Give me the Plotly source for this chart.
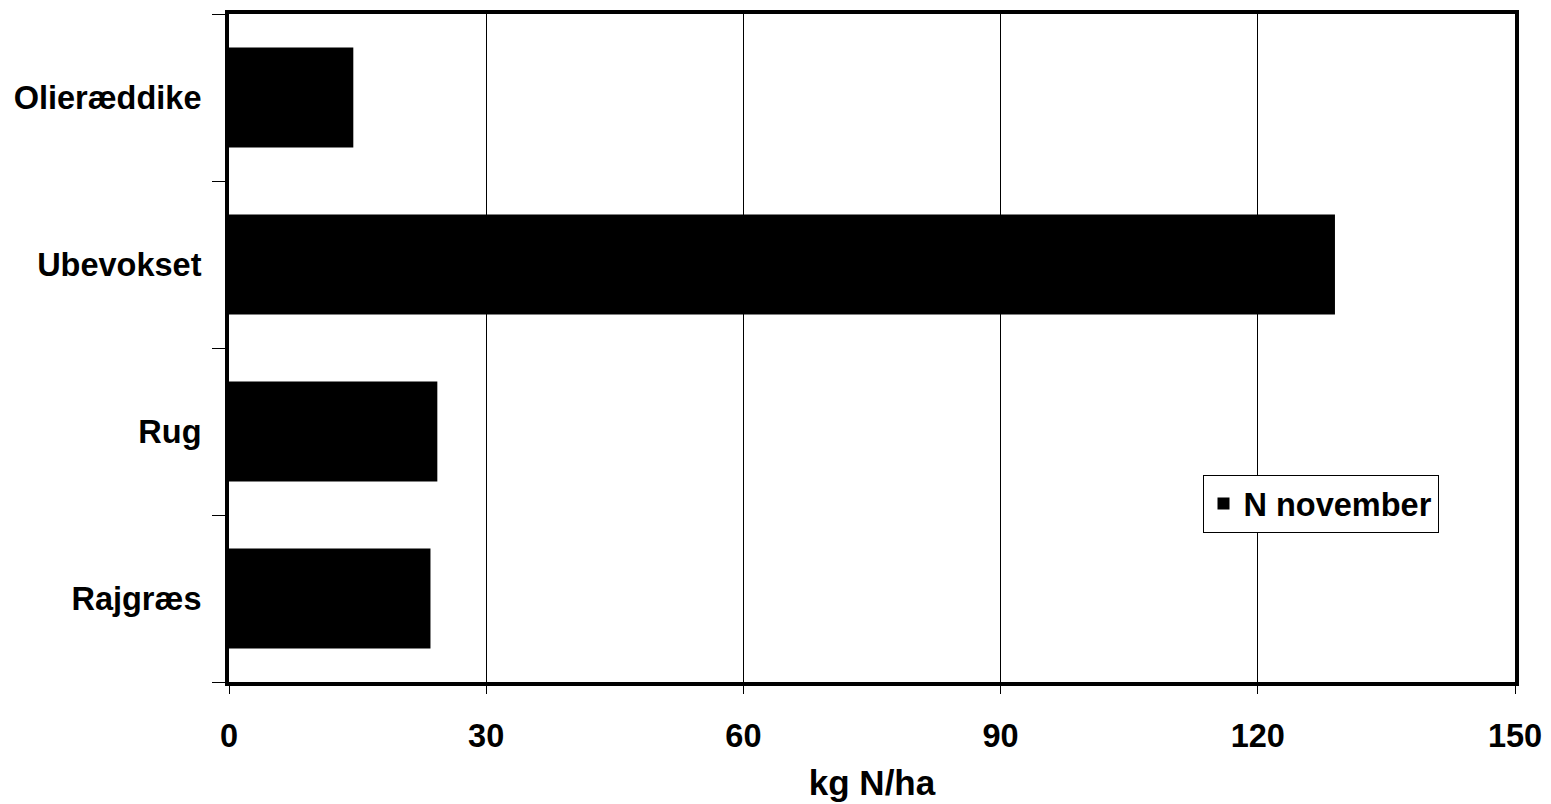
import plotly.graph_objects as go

categories = ["Rajgræs", "Rug", "Ubevokset", "Olieræddike"]
n_november = [23.5, 24.3, 129.0, 14.5]
x_ticks = [0, 30, 60, 90, 120, 150]
series_name = "N november"
x_title = "kg N/ha"

FONT = "Liberation Sans, Arial, sans-serif"

fig = go.Figure()
fig.add_trace(go.Bar(
    y=categories,
    x=n_november,
    orientation="h",
    name=series_name,
    marker=dict(color="black", line=dict(width=0)),
    showlegend=True,
))

fig.update_layout(
    width=1551,
    height=804,
    margin=dict(l=221, r=44, t=6, b=130, autoexpand=False),
    plot_bgcolor="white",
    paper_bgcolor="white",
    bargap=0.4,
    font=dict(family=FONT, color="black", size=32.5, weight="bold"),
    showlegend=True,
    legend=dict(
        x=0.757, y=0.31, xanchor="left", yanchor="top",
        bordercolor="black", borderwidth=1, bgcolor="white",
        font=dict(family=FONT, size=32.5, color="black", weight="bold"),
        itemwidth=30,
    ),
)

fig.update_xaxes(
    range=[0, 150],
    tickvals=x_ticks,
    ticktext=[str(v) for v in x_ticks],
    showgrid=True, gridcolor="black", gridwidth=1,
    showline=True, linecolor="black", linewidth=4, mirror=True,
    ticks="outside", ticklen=8, tickwidth=1, tickcolor="black",
    tickfont=dict(family=FONT, size=32.5, color="black", weight="bold"),
    ticklabelstandoff=14,
    title=dict(text=x_title, font=dict(family=FONT, size=35, color="black", weight="bold"), standoff=18),
    zeroline=False,
    automargin=False,
)
fig.update_yaxes(
    categoryorder="array", categoryarray=categories,
    showline=True, linecolor="black", linewidth=4, mirror=True,
    ticks="outside", ticklen=13, tickwidth=1, tickcolor="black",
    tickson="boundaries",
    tickfont=dict(family=FONT, size=32.5, color="black", weight="bold"),
    showgrid=False,
    ticklabelstandoff=17,
    automargin=False,
)

fig.write_html("out.html")
